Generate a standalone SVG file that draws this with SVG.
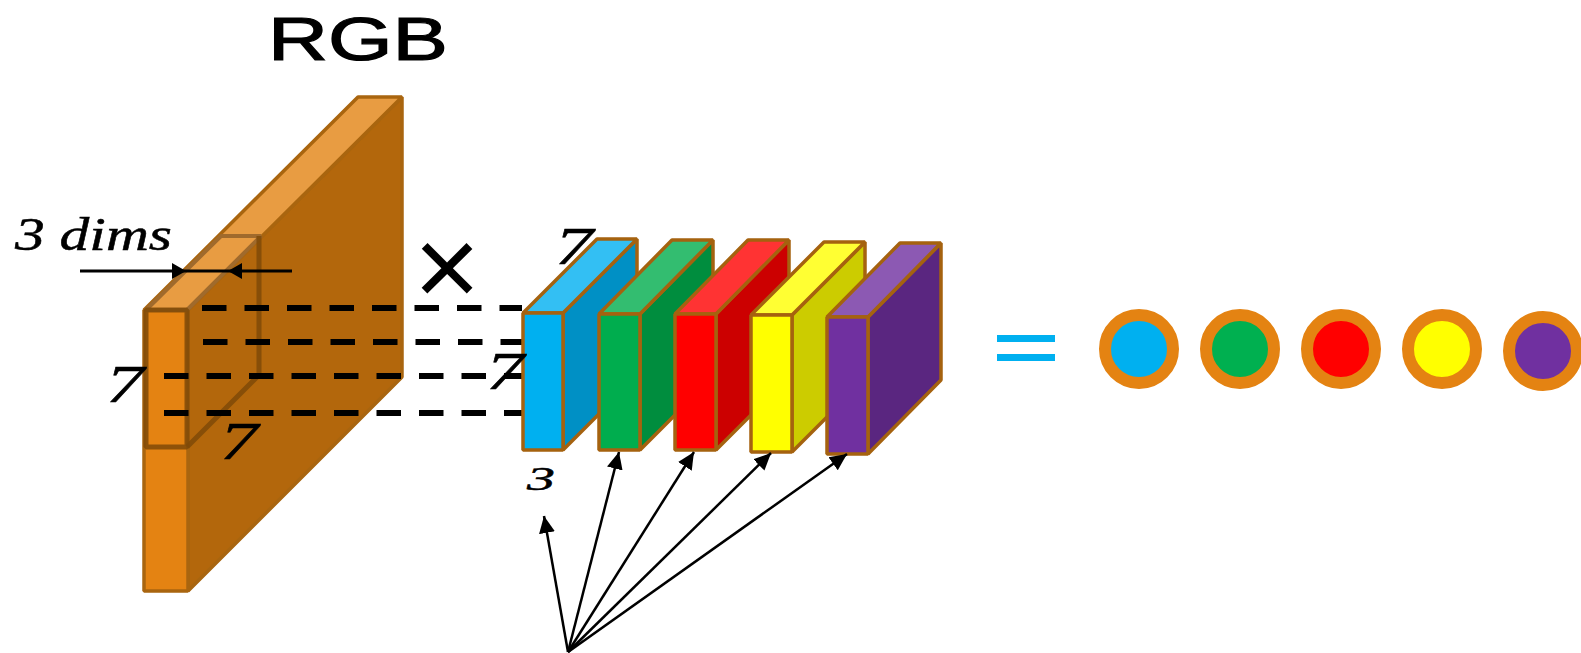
<svg xmlns="http://www.w3.org/2000/svg" width="1581" height="653" viewBox="0 0 1581 653">
<style>
.hand{font-family:"Liberation Serif",serif;font-style:italic;fill:#000;stroke:#000;stroke-width:.5}
.b{stroke:#A5620F;stroke-width:3.5;stroke-linejoin:bevel}
.big{stroke:#A9650F;stroke-width:3.5;stroke-linejoin:bevel}
.win{fill:none;stroke:#7F4A08;stroke-width:5;stroke-opacity:.85;stroke-linejoin:bevel}
.wint{fill:#E89C42;stroke:#A06A2C;stroke-width:4;stroke-linejoin:bevel}
.dash{stroke:#000;stroke-width:6;stroke-dasharray:24.5 18;fill:none}
.arr{stroke:#000;stroke-width:2.5;fill:none;marker-end:url(#h)}
.dim{stroke:#000;stroke-width:3;fill:none;marker-end:url(#h2)}
.ring{stroke:#E48312;stroke-width:12}
</style>
<defs>
<marker id="h" markerUnits="userSpaceOnUse" markerWidth="18" markerHeight="18" refX="17" refY="9" orient="auto"><path d="M0 1L17 9L0 17Z" fill="#000"/></marker>
<marker id="h2" markerUnits="userSpaceOnUse" markerWidth="14" markerHeight="16" refX="14" refY="8" orient="auto"><path d="M0 0L14 8L0 16Z" fill="#000"/></marker>
</defs>
<rect width="1581" height="653" fill="#fff"/>
<g id="rgb-block">
<path class="big" fill="#B3670C" d="M188 310L402 97V377L188 591Z"/>
<path class="big" fill="#E89C42" d="M144 310L358 97H402L188 310Z"/>
<path class="big" fill="#E48312" d="M144 310H188V591H144Z"/>
</g>
<g id="kernel-window">
<path class="wint" d="M146 310L221 236H261L187 310Z"/>
<path class="win" d="M259 236V375L187 447"/>
<path class="win" d="M146 310H187V447H146Z"/>
</g>
<g id="dashes">
<path class="dash" d="M202 308H522"/>
<path class="dash" d="M203 342H522"/>
<path class="dash" d="M164 376H522"/>
<path class="dash" d="M164 413H522"/>
</g>
<g id="label-rgb"><text class="hand" x="268" y="60" font-size="62" textLength="180" lengthAdjust="spacingAndGlyphs" style="font-style:normal;font-family:'Liberation Sans',sans-serif;stroke-width:1.2">RGB</text></g>
<g id="label-dims"><text class="hand" x="15" y="250" font-size="46" textLength="157" lengthAdjust="spacingAndGlyphs">3 dims</text></g>
<g id="label-cross"><text x="447" y="306" font-size="114" text-anchor="middle" style="font-family:'Liberation Sans',sans-serif">×</text></g>
<g id="dim-arrows">
<path class="dim" d="M80 271H186"/>
<path class="dim" d="M292 271H228"/>
<path stroke="#000" stroke-width="3" d="M186 271H228"/>
</g>
<g id="slice-blue">
<path class="b" fill="#0090C5" d="M563 313L637 239V376L563 450Z"/>
<path class="b" fill="#33BFF3" d="M523 313L597 239H637L563 313Z"/>
<path class="b" fill="#00B0F0" d="M523 313H563V450H523Z"/>
</g>
<g id="slice-green">
<path class="b" fill="#008D3E" d="M640 314L713 240V377L640 450Z"/>
<path class="b" fill="#33BD70" d="M599 314L672 240H713L640 314Z"/>
<path class="b" fill="#00AD4E" d="M599 314H640V450H599Z"/>
</g>
<g id="slice-red">
<path class="b" fill="#CC0000" d="M716 314L789 240V377L716 450Z"/>
<path class="b" fill="#FF3333" d="M675 314L748 240H789L716 314Z"/>
<path class="b" fill="#FF0000" d="M675 314H716V450H675Z"/>
</g>
<g id="slice-yellow">
<path class="b" fill="#CCCC00" d="M792 315L865 242V379L792 452Z"/>
<path class="b" fill="#FFFF33" d="M751 315L824 242H865L792 315Z"/>
<path class="b" fill="#FFFF00" d="M751 315H792V452H751Z"/>
</g>
<g id="slice-purple">
<path class="b" fill="#5A2680" d="M868 317L941 243V380L868 454Z"/>
<path class="b" fill="#8C59B3" d="M827 317L900 243H941L868 317Z"/>
<path class="b" fill="#7030A0" d="M827 317H868V454H827Z"/>
</g>
<g id="labels-seven">
<text class="hand" x="106" y="402" font-size="52" textLength="38" lengthAdjust="spacingAndGlyphs">7</text>
<text class="hand" x="220" y="459" font-size="52" textLength="38" lengthAdjust="spacingAndGlyphs">7</text>
<text class="hand" x="486" y="389" font-size="52" textLength="38" lengthAdjust="spacingAndGlyphs">7</text>
<text class="hand" x="555" y="264" font-size="52" textLength="38" lengthAdjust="spacingAndGlyphs">7</text>
</g>
<g id="label-three"><text class="hand" x="527" y="490" font-size="34" textLength="28" lengthAdjust="spacingAndGlyphs">3</text></g>
<g id="arrows">
<path class="arr" d="M568 652L544 516"/>
<path class="arr" d="M568 652L619 452"/>
<path class="arr" d="M568 652L694 452"/>
<path class="arr" d="M568 652L771 453"/>
<path class="arr" d="M568 652L847 454"/>
</g>
<g id="equals">
<rect x="997" y="335" width="58" height="7" fill="#00B0F0"/>
<rect x="997" y="354" width="58" height="7" fill="#00B0F0"/>
</g>
<g id="circle-blue"><circle class="ring" cx="1139" cy="349" r="34" fill="#00B0F0"/></g>
<g id="circle-green"><circle class="ring" cx="1240" cy="349" r="34" fill="#00B050"/></g>
<g id="circle-red"><circle class="ring" cx="1341" cy="349" r="34" fill="#FF0000"/></g>
<g id="circle-yellow"><circle class="ring" cx="1442" cy="349" r="34" fill="#FFFF00"/></g>
<g id="circle-purple"><circle class="ring" cx="1543" cy="351" r="34" fill="#7030A0"/></g>
</svg>
